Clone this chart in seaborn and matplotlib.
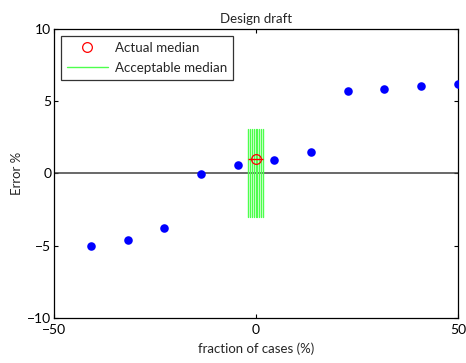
import matplotlib
matplotlib.use("Agg")
import matplotlib.pyplot as plt
import seaborn as sns
import pandas as pd
from matplotlib.lines import Line2D

# data
case_fraction = [-40.9, -31.8, -22.7, -13.6, -4.5, 4.5, 13.6, 22.7, 31.8, 40.9, 50.0]
error_pct = [-5.0, -4.6, -3.77, -0.03, 0.59, 0.93, 1.49, 5.71, 5.85, 6.06, 6.2]
acceptable_x = [-2.0, -1.5, -1.0, -0.55, -0.1, 0.35, 0.8, 1.3, 1.7]
acceptable_lo = -3.0
acceptable_hi = 3.1
median_x = [0.0]
median_y = [1.0]
median_xerr_lo = [2.0]
median_xerr_hi = [1.8]
x_ticks = [-50, 0, 50]
y_ticks = [-10, -5, 0, 5, 10]

sns.set_style("white")
plt.rcParams['font.family'] = ['Lato', 'DejaVu Sans']

GREEN = (0.3, 1.0, 0.3)

fig = plt.figure(figsize=(4.66, 3.63), dpi=100)
ax = fig.add_axes([54/466, 1-318/363, (458-54)/466, (318-29)/363])

df = pd.DataFrame({"x": case_fraction, "y": error_pct})
sns.scatterplot(data=df, x="x", y="y", ax=ax, color="#0000ff", s=38,
                edgecolor="#0000ff", linewidth=0, zorder=3)

ax.axhline(0, color="#404040", lw=1.1, zorder=1)

for xv in acceptable_x:
    ax.plot([xv, xv], [acceptable_lo, acceptable_hi], color=GREEN, lw=1.0, zorder=2)

ax.errorbar(median_x, median_y, xerr=[median_xerr_lo, median_xerr_hi], fmt='o',
            mfc='none', mec='red', ecolor='red', color='red', ms=7, mew=0.9,
            elinewidth=1.0, capsize=0, zorder=5)

ax.set_xlim(-50, 50)
ax.set_ylim(-10, 10)
ax.set_xticks(x_ticks)
ax.set_yticks(y_ticks)
ax.tick_params(direction='in', length=3, width=0.8, labelsize=10, top=True, right=True,
               bottom=True, left=True, pad=2, colors='black')
ax.tick_params(axis='x', pad=4)
for s in ax.spines.values():
    s.set_color('black')
    s.set_linewidth(0.9)

ax.set_title("Design draft", fontsize=9.5, pad=4)
ax.set_xlabel("fraction of cases (%)", fontsize=9.5, labelpad=5)
ax.set_ylabel("Error %", fontsize=9.5, labelpad=3)

handles = [Line2D([], [], marker='o', ls='none', mfc='none', mec='red', ms=7, mew=0.9),
           Line2D([], [], color=GREEN, lw=1.0)]
leg = ax.legend(handles, ["Actual median", "Acceptable median"], loc='upper left',
                bbox_to_anchor=(0.01, 0.985), fontsize=9.6, frameon=True, fancybox=False,
                edgecolor='black', borderpad=0.45, handlelength=3.1, labelspacing=0.6,
                handletextpad=0.5, borderaxespad=0.2)
leg.get_frame().set_linewidth(0.9)

fig.savefig("out.png", dpi=100)
